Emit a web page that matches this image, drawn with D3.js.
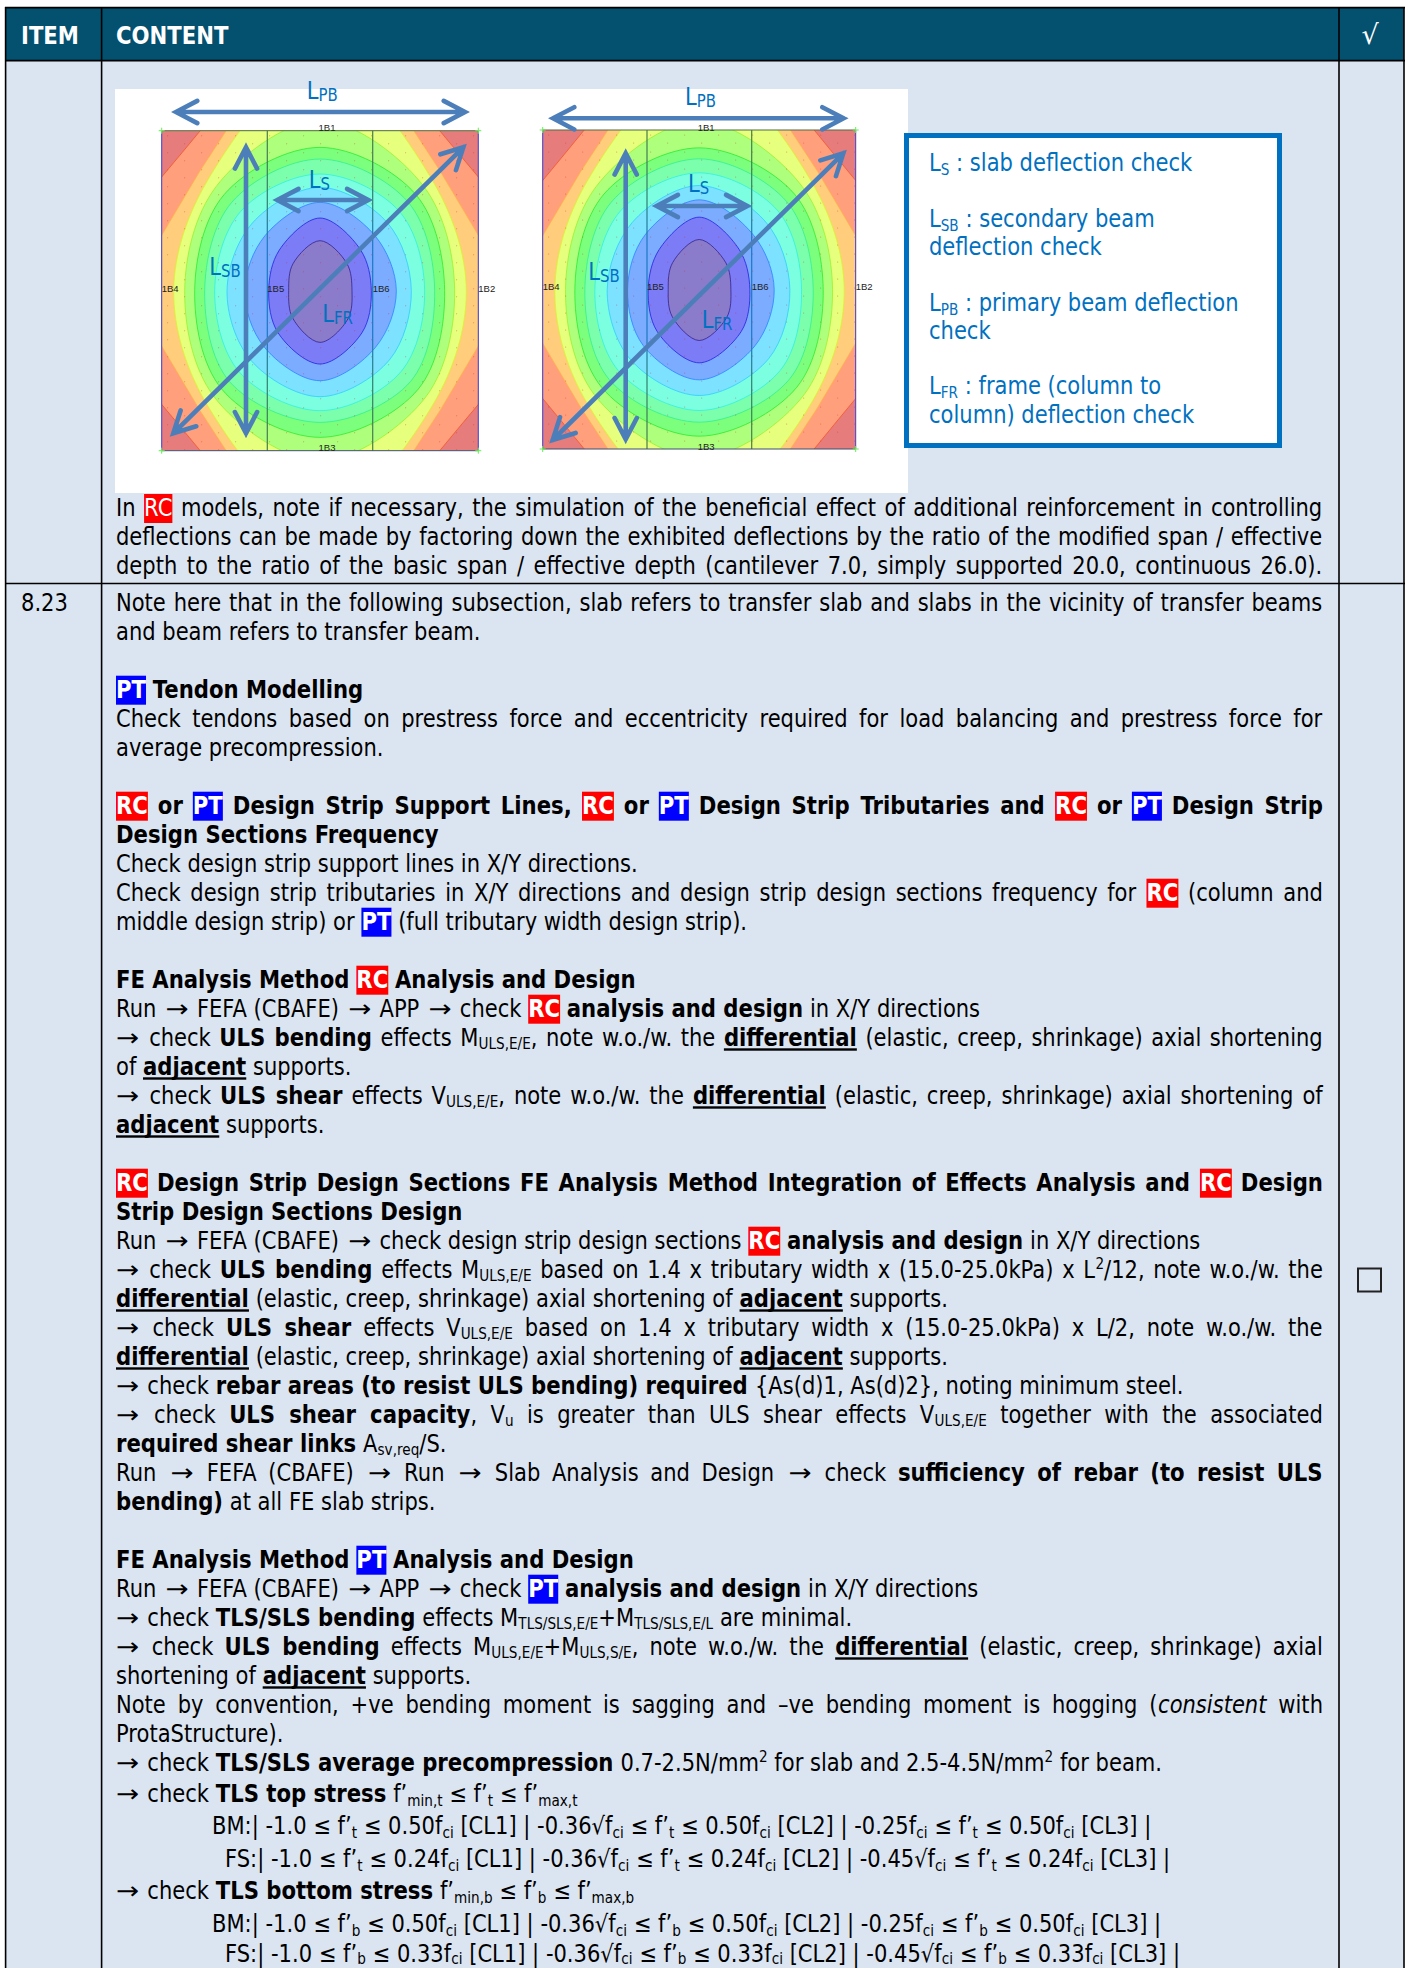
<!DOCTYPE html>
<html>
<head>
<meta charset="utf-8">
<script src="https://cdn.jsdelivr.net/npm/d3@7"></script>
<style>
body { margin: 0; background: #fff; }
svg { display: block; }
text { font-family: "DejaVu Sans", sans-serif; white-space: pre; }
</style>
</head>
<body>
<div id="page"></div>
<script>
// colours of the deflection bands, corner (red) to centre
const bandColors = ["#e67c7c", "#ff9f7c", "#ffcd7c", "#e6ff7c", "#aeff7c", "#7cff7c", "#7cffac", "#7cffe0", "#7ce2ff", "#7cacff", "#7c7cf6", "#8a7ccb"];
const contourColors = ["#f2552b", "#ffb04a", "#dcf030", "#9bf030", "#30e830", "#30f090", "#30f0e0", "#30ccff", "#3080ff", "#2222dd", "#332288"];

// contour reach from plot centre: N, NE, E, SE, S, SW, W, NW
const plotOneReach = [
	[913, 414, 761, 414, 913, 414, 761, 414],
	[911, 360, 574, 360, 911, 360, 574, 360],
	[680, 335, 439, 340, 680, 340, 439, 335],
	[510, 312, 404, 318, 510, 318, 406, 312],
	[430, 288, 374, 295, 440, 295, 376, 288],
	[395, 265, 344, 272, 395, 272, 346, 265],
	[350, 238, 314, 243, 360, 243, 316, 238],
	[310, 203, 274, 208, 318, 208, 279, 203],
	[265, 165, 229, 168, 270, 168, 226, 165],
	[218, 122, 154, 126, 220, 126, 154, 122],
	[150, 81, 96, 84, 155, 82, 94, 81]
];
const plotTwoReach = [
	[900, 405, 740, 405, 900, 405, 740, 405],
	[895, 355, 565, 355, 895, 355, 565, 355],
	[670, 332, 435, 338, 670, 338, 433, 332],
	[505, 309, 400, 315, 505, 315, 401, 309],
	[425, 286, 372, 293, 440, 293, 373, 286],
	[392, 263, 342, 270, 398, 270, 343, 263],
	[350, 236, 307, 243, 363, 243, 313, 236],
	[312, 201, 272, 208, 318, 208, 276, 201],
	[269, 163, 225, 168, 271, 168, 215, 163],
	[217, 120, 152, 126, 220, 126, 153, 120],
	[150, 80, 95, 83, 153, 81, 93, 80]
];

const legendLines = [
	["L_{S} : slab deflection check", 171],
	["L_{SB} : secondary beam", 227],
	["deflection check", 255],
	["L_{PB} : primary beam deflection", 311],
	["check", 339],
	["L_{FR} : frame (column to", 394],
	["column) deflection check", 423]
];

// [text, justified]
const rowOneLines = [
	["In [rc] models, note if necessary, the simulation of the beneficial effect of additional reinforcement in controlling", true],
	["deflections can be made by factoring down the exhibited deflections by the ratio of the modified span / effective", true],
	["depth to the ratio of the basic span / effective depth (cantilever 7.0, simply supported 20.0, continuous 26.0).", true]
];

const diffLine = "__differential__ (elastic, creep, shrinkage) axial shortening of __adjacent__ supports.";

const rowTwoLines = [
	["Note here that in the following subsection, slab refers to transfer slab and slabs in the vicinity of transfer beams", true],
	["and beam refers to transfer beam."],
	[""],
	["[PT] **Tendon Modelling**"],
	["Check tendons based on prestress force and eccentricity required for load balancing and prestress force for", true],
	["average precompression."],
	[""],
	["[RC] **or** [PT] **Design Strip Support Lines,** [RC] **or** [PT] **Design Strip Tributaries and** [RC] **or** [PT] **Design Strip**", true],
	["**Design Sections Frequency**"],
	["Check design strip support lines in X/Y directions."],
	["Check design strip tributaries in X/Y directions and design strip design sections frequency for [RC] (column and", true],
	["middle design strip) or [PT] (full tributary width design strip)."],
	[""],
	["**FE Analysis Method** [RC] **Analysis and Design**"],
	["Run → FEFA (CBAFE) → APP → check [RC] **analysis and design** in X/Y directions"],
	["→ check **ULS bending** effects M_{ULS,E/E}, note w.o./w. the __differential__ (elastic, creep, shrinkage) axial shortening", true],
	["of __adjacent__ supports."],
	["→ check **ULS shear** effects V_{ULS,E/E}, note w.o./w. the __differential__ (elastic, creep, shrinkage) axial shortening of", true],
	["__adjacent__ supports."],
	[""],
	["[RC] **Design Strip Design Sections FE Analysis Method Integration of Effects Analysis and** [RC] **Design**", true],
	["**Strip Design Sections Design**"],
	["Run → FEFA (CBAFE) → check design strip design sections [RC] **analysis and design** in X/Y directions"],
	["→ check **ULS bending** effects M_{ULS,E/E} based on 1.4 x tributary width x (15.0-25.0kPa) x L^{2}/12, note w.o./w. the", true],
	[diffLine],
	["→ check **ULS shear** effects V_{ULS,E/E} based on 1.4 x tributary width x (15.0-25.0kPa) x L/2, note w.o./w. the", true],
	[diffLine],
	["→ check **rebar areas (to resist ULS bending) required** {As(d)1, As(d)2}, noting minimum steel."],
	["→ check **ULS shear capacity**, V_{u} is greater than ULS shear effects V_{ULS,E/E} together with the associated", true],
	["**required shear links** A_{sv,req}/S."],
	["Run → FEFA (CBAFE) → Run → Slab Analysis and Design → check **sufficiency of rebar (to resist ULS**", true],
	["**bending)** at all FE slab strips."],
	[""],
	["**FE Analysis Method** [PT] **Analysis and Design**"],
	["Run → FEFA (CBAFE) → APP → check [PT] **analysis and design** in X/Y directions"],
	["→ check **TLS/SLS bending** effects M_{TLS/SLS,E/E}+M_{TLS/SLS,E/L} are minimal."],
	["→ check **ULS bending** effects M_{ULS,E/E}+M_{ULS,S/E}, note w.o./w. the __differential__ (elastic, creep, shrinkage) axial", true],
	["shortening of __adjacent__ supports."],
	["Note by convention, +ve bending moment is sagging and –ve bending moment is hogging (//consistent// with", true],
	["ProtaStructure)."],
	["→ check **TLS/SLS average precompression** 0.7-2.5N/mm^{2} for slab and 2.5-4.5N/mm^{2} for beam."]
];

// last lines have their own pitch: [text, indent, baseline, subscript drop]
const stressLines = [
	["→ check **TLS top stress** f’_{min,t} ≤ f’_{t} ≤ f’_{max,t}", 116, 1802],
	["BM:| -1.0 ≤ f’_{t} ≤ 0.50f_{ci} [CL1] | -0.36√f_{ci} ≤ f’_{t} ≤ 0.50f_{ci} [CL2] | -0.25f_{ci} ≤ f’_{t} ≤ 0.50f_{ci} [CL3] |", 212, 1834],
	["FS:| -1.0 ≤ f’_{t} ≤ 0.24f_{ci} [CL1] | -0.36√f_{ci} ≤ f’_{t} ≤ 0.24f_{ci} [CL2] | -0.45√f_{ci} ≤ f’_{t} ≤ 0.24f_{ci} [CL3] |", 225, 1867],
	["→ check **TLS bottom stress** f’_{min,b} ≤ f’_{b} ≤ f’_{max,b}", 116, 1899],
	["BM:| -1.0 ≤ f’_{b} ≤ 0.50f_{ci} [CL1] | -0.36√f_{ci} ≤ f’_{b} ≤ 0.50f_{ci} [CL2] | -0.25f_{ci} ≤ f’_{b} ≤ 0.50f_{ci} [CL3] |", 212, 1932],
	["FS:| -1.0 ≤ f’_{b} ≤ 0.33f_{ci} [CL1] | -0.36√f_{ci} ≤ f’_{b} ≤ 0.33f_{ci} [CL2] | -0.45√f_{ci} ≤ f’_{b} ≤ 0.33f_{ci} [CL3] |", 225, 1962, 1.5]
];

const directions = [[0, -1], [1, -1], [1, 0], [1, 1], [0, 1], [-1, 1], [-1, 0], [-1, -1]];

const svg = d3.select("#page").append("svg")
	.attr("width", 1405)
	.attr("height", 1968);

const PANEL = "#dbe5f1", HEAD = "#03506f", ACCENT = "#0070c0", ARROW = "#4c7fba";

// ---- text helpers
function naturalWidth(str, weight) {
	const t = svg.append("text").attr("font-size", 24).attr("font-weight", weight).text(str);
	const w = t.node().getComputedTextLength();
	t.remove();
	return w;
}
// DejaVu is wider than the page font, so squeeze it to the measured widths of two lines
const sxReg = 522 / naturalWidth("Check design strip support lines in X/Y directions.", "normal");
const sxBold = 323 / naturalWidth("Design Sections Frequency", "bold");

function parseLine(str) {
	return str.split(/(\*\*.+?\*\*|__.+?__|\/\/.+?\/\/|\[RC\]|\[PT\]|\[rc\]|_\{.+?\}|\^\{.+?\}|→)/)
		.filter(s => s.length)
		.map(s => {
			if (s.startsWith("**")) return {kind: "bold", text: s.slice(2, -2)};
			if (s.startsWith("__")) return {kind: "under", text: s.slice(2, -2)};
			if (s.startsWith("//")) return {kind: "ital", text: s.slice(2, -2)};
			if (s.startsWith("_{")) return {kind: "sub", text: s.slice(2, -1)};
			if (s.startsWith("^{")) return {kind: "sup", text: s.slice(2, -1)};
			if (s == "[RC]" || s == "[PT]") return {kind: "badge", text: s.slice(1, -1)};
			if (s == "[rc]") return {kind: "badgeReg", text: "RC"};
			if (s == "→") return {kind: "arrow", text: s};
			return {kind: "plain", text: s};
		});
}

function drawLine(g, str, x, y, opts) {
	opts = opts || {};
	const color = opts.color || "#000";
	const segs = parseLine(str);
	const line = g.append("g");
	let total = 0, spaces = 0;
	segs.forEach((s, i) => {
		const heavy = s.kind == "bold" || s.kind == "under" || s.kind == "badge";
		const small = s.kind == "sub" || s.kind == "sup";
		s.sx = s.kind == "arrow" ? 1.15 : heavy ? sxBold : sxReg;
		// the page font has a wider arrow with more air round it
		s.padL = s.kind == "arrow" && i > 0 ? 2.5 : 0;
		s.padR = s.kind == "arrow" ? 1.5 : 0;
		s.node = line.append("text")
			.attr("font-size", small ? (opts.small || 15.5) : (opts.size || 24))
			.attr("font-weight", heavy ? "bold" : "normal")
			.attr("font-style", s.kind == "ital" ? "italic" : "normal")
			.attr("fill", s.kind.startsWith("badge") ? "#fff" : color)
			.text(s.text);
		s.width = s.node.node().getComputedTextLength() * s.sx;
		total += s.width + s.padL + s.padR;
		if (!small && !s.kind.startsWith("badge")) spaces += s.text.split(" ").length - 1;
	});
	const extra = opts.width && spaces ? (opts.width - total) / spaces : 0;
	let cx = x;
	segs.forEach(s => {
		const isBadge = s.kind.startsWith("badge");
		const n = isBadge ? 0 : s.text.split(" ").length - 1;
		const dy = s.kind == "sub" ? (opts.subDy === undefined ? 3.5 : opts.subDy) : s.kind == "sup" ? -9 : 0;
		cx += s.padL;
		s.node
			.style("word-spacing", (extra / s.sx) + "px")
			.attr("transform", "translate(" + cx + "," + (y + dy) + ") scale(" + s.sx + ",1)");
		if (isBadge) {
			line.insert("rect", "text")
				.attr("x", cx).attr("y", y - 22)
				.attr("width", s.width).attr("height", 29)
				.attr("fill", s.text == "PT" ? "#0000ff" : "#ff0000");
		}
		const w = s.width + n * extra;
		if (s.kind == "under") {
			line.append("rect")
				.attr("x", cx).attr("y", y + 2.6)
				.attr("width", w).attr("height", 2.4)
				.attr("fill", color);
		}
		cx += w + s.padR;
	});
}

// ---- table frame
svg.append("rect").attr("x", 6).attr("y", 60).attr("width", 1398).attr("height", 1908).attr("fill", PANEL);
svg.append("rect").attr("x", 6).attr("y", 8).attr("width", 1398).attr("height", 53).attr("fill", HEAD);

const frame = svg.append("g").attr("stroke", "#000").attr("stroke-width", 1.6);
[5.6, 101.6, 1339, 1404].forEach(x => {
	frame.append("line").attr("x1", x).attr("x2", x).attr("y1", 7).attr("y2", 1968);
});
[7.6, 60.6, 583.5].forEach(y => {
	frame.append("line").attr("x1", 5).attr("x2", 1405).attr("y1", y).attr("y2", y);
});

drawLine(svg, "**ITEM**", 21, 43.5, {color: "#fff"});
drawLine(svg, "**CONTENT**", 116, 43.5, {color: "#fff"});
svg.append("text").attr("x", 1370).attr("y", 44).attr("text-anchor", "middle")
	.attr("font-size", 27).attr("fill", "#fff").text("√");

// ---- the picture with the two slab plots
svg.append("rect").attr("x", 115).attr("y", 89).attr("width", 793).attr("height", 404).attr("fill", "#fff");

function arrow(g, x1, y1, x2, y2) {
	const ang = Math.atan2(y2 - y1, x2 - x1);
	const head = (x, y, a) => {
		const p = [a + 2.66, a, a - 2.66];
		return "M" + (x + 24 * Math.cos(p[0])) + "," + (y + 24 * Math.sin(p[0])) +
			"L" + x + "," + y +
			"L" + (x + 24 * Math.cos(p[2])) + "," + (y + 24 * Math.sin(p[2]));
	};
	g.append("path")
		.attr("d", "M" + x1 + "," + y1 + "L" + x2 + "," + y2 + head(x2, y2, ang) + head(x1, y1, ang + Math.PI))
		.attr("fill", "none").attr("stroke", ARROW).attr("stroke-width", 4.6).attr("stroke-linecap", "round");
}

function drawPlot(id, reach, box, spanLines, marks) {
	const x = d3.scaleLinear().domain([0, box.unitsX]).range([box.x0, box.x1]);
	const y = d3.scaleLinear().domain([0, box.unitsY]).range([box.y0, box.y1]);
	const g = svg.append("g").attr("id", id);

	g.append("clipPath").attr("id", id + "-clip").append("rect")
		.attr("x", box.x0).attr("y", box.y0)
		.attr("width", box.x1 - box.x0).attr("height", box.y1 - box.y0);
	const inner = g.append("g").attr("clip-path", "url(#" + id + "-clip)");

	inner.append("rect")
		.attr("x", box.x0).attr("y", box.y0)
		.attr("width", box.x1 - box.x0).attr("height", box.y1 - box.y0)
		.attr("fill", bandColors[0]);

	const smooth = d3.line().curve(d3.curveCatmullRomClosed.alpha(0.5));
	const straight = d3.line().curve(d3.curveLinearClosed);
	reach.forEach((row, i) => {
		const pts = row.map((r, k) => [
			x(box.unitsX / 2 + directions[k][0] * r),
			y(box.unitsY / 2 + directions[k][1] * r)
		]);
		inner.append("path")
			.attr("d", (i < 2 ? straight : smooth)(pts))
			.attr("fill", bandColors[i + 1])
			.attr("stroke", contourColors[i])
			.attr("stroke-width", 0.8);
	});

	// stipple of mesh nodes
	d3.range(box.x0 + 6, box.x1, 17).forEach((px, a) => {
		d3.range(box.y0 + 5 + (a % 2) * 8, box.y1, 17).forEach(py => {
			inner.append("circle").attr("cx", px).attr("cy", py).attr("r", 0.5)
				.attr("fill", "#d0302a").attr("opacity", 0.55);
		});
	});

	// strip lines
	spanLines.forEach((sx, i) => {
		const gid = id + "-strip" + i;
		const grad = g.append("linearGradient").attr("id", gid)
			.attr("gradientUnits", "userSpaceOnUse")
			.attr("x1", 0).attr("x2", 0).attr("y1", box.y0).attr("y2", box.y1);
		[[0, "#4b7d45"], [0.22, "#2f7f70"], [0.36, "#1a78c4"], [0.64, "#1a78c4"], [0.78, "#2f7f70"], [1, "#4b7d45"]].forEach(s => {
			grad.append("stop").attr("offset", s[0]).attr("stop-color", s[1]);
		});
		// a plain line has a zero-width box, so draw a thin rect for the gradient
		g.append("rect").attr("x", sx - 0.6).attr("y", box.y0)
			.attr("width", 1.2).attr("height", box.y1 - box.y0)
			.attr("fill", "url(#" + gid + ")");
	});

	// border
	g.append("line").attr("x1", box.x0).attr("x2", box.x1).attr("y1", box.y0).attr("y2", box.y0).attr("stroke", "#4f6f3f").attr("stroke-width", 1);
	g.append("line").attr("x1", box.x0).attr("x2", box.x1).attr("y1", box.y1).attr("y2", box.y1).attr("stroke", "#3f4f6f").attr("stroke-width", 1);
	g.append("line").attr("x1", box.x0).attr("x2", box.x0).attr("y1", box.y0).attr("y2", box.y1).attr("stroke", "#3a3acc").attr("stroke-width", 1);
	g.append("line").attr("x1", box.x1).attr("x2", box.x1).attr("y1", box.y0).attr("y2", box.y1).attr("stroke", "#3a3acc").attr("stroke-width", 1);
	[[box.x0, box.y0], [box.x1, box.y0], [box.x0, box.y1], [box.x1, box.y1]].forEach(c => {
		g.append("path").attr("d", "M" + (c[0] - 3) + "," + c[1] + "h6M" + c[0] + "," + (c[1] - 3) + "v6")
			.attr("stroke", "#66ee55").attr("stroke-width", 1);
	});

	// beam labels
	const midY = (box.y0 + box.y1) / 2 - 2.5;
	const beamLabels = [
		["1B1", (box.x0 + box.x1) / 2 + 7, box.y0 - 2.7, "middle"],
		["1B3", (box.x0 + box.x1) / 2 + 7, box.y1 - 2.7, "middle"],
		["1B4", box.x0, midY, "start"],
		["1B5", spanLines[0], midY, "start"],
		["1B6", spanLines[1], midY, "start"],
		["1B2", box.x1, midY, "start"]
	];
	g.selectAll(".beam").data(beamLabels).enter().append("text")
		.attr("class", "beam")
		.attr("x", d => d[1]).attr("y", d => d[2])
		.attr("text-anchor", d => d[3]).attr("dy", "0.35em")
		.style("font-family", "'Liberation Sans', Arial, sans-serif")
		.attr("font-size", 9.5).attr("fill", "#222")
		.text(d => d[0]);

	marks.arrows.forEach(a => arrow(g, a[0], a[1], a[2], a[3]));
	marks.labels.forEach(l => drawLine(g, l[0], l[1], l[2], {color: ACCENT, size: 24, small: 17, subDy: 2}));
}

drawPlot("plot1", plotOneReach,
	{x0: 161.7, x1: 478.3, y0: 130.7, y1: 450.7, unitsX: 950, unitsY: 960},
	[267.3, 372.7],
	{
		arrows: [[176, 112, 465, 112], [277.3, 200, 368.3, 200], [246, 147.3, 246, 433.3], [173.3, 433.3, 463.3, 147.3]],
		labels: [["L_{PB}", 306.7, 99.3], ["L_{S}", 308.7, 187.7], ["L_{SB}", 209.3, 275], ["L_{FR}", 322.3, 322.3]]
	});

drawPlot("plot2", plotTwoReach,
	{x0: 542.7, x1: 855.7, y0: 130, y1: 449, unitsX: 939, unitsY: 957},
	[647, 751.7],
	{
		arrows: [[553, 118.3, 843.6, 118.3], [656.7, 206, 747.3, 206], [625.7, 153.3, 625.7, 439.3], [552.7, 440, 843.3, 153.3]],
		labels: [["L_{PB}", 685, 105], ["L_{S}", 688, 191.7], ["L_{SB}", 588.3, 280], ["L_{FR}", 701.7, 328.3]]
	});

// ---- legend box
svg.append("rect")
	.attr("x", 906.5).attr("y", 135.5).attr("width", 373).attr("height", 310)
	.attr("fill", "#fff").attr("stroke", ACCENT).attr("stroke-width", 5);
legendLines.forEach(l => drawLine(svg, l[0], 929, l[1], {color: ACCENT}));

// ---- body text
const TEXT_X = 116, TEXT_W = 1207;
rowOneLines.forEach((l, i) => {
	drawLine(svg, l[0], TEXT_X, 516 + 29 * i, {width: l[1] ? TEXT_W : 0});
});
drawLine(svg, "8.23", 21, 610.7);
rowTwoLines.forEach((l, i) => {
	if (l[0]) drawLine(svg, l[0], TEXT_X, 610.7 + 29 * i, {width: l[1] ? TEXT_W : 0});
});
stressLines.forEach(l => drawLine(svg, l[0], l[1], l[2], {subDy: l[3]}));

// tick box in the last column
svg.append("rect").attr("x", 1358).attr("y", 1268.5).attr("width", 23).attr("height", 23)
	.attr("fill", "none").attr("stroke", "#222").attr("stroke-width", 2);
</script>
</body>
</html>
